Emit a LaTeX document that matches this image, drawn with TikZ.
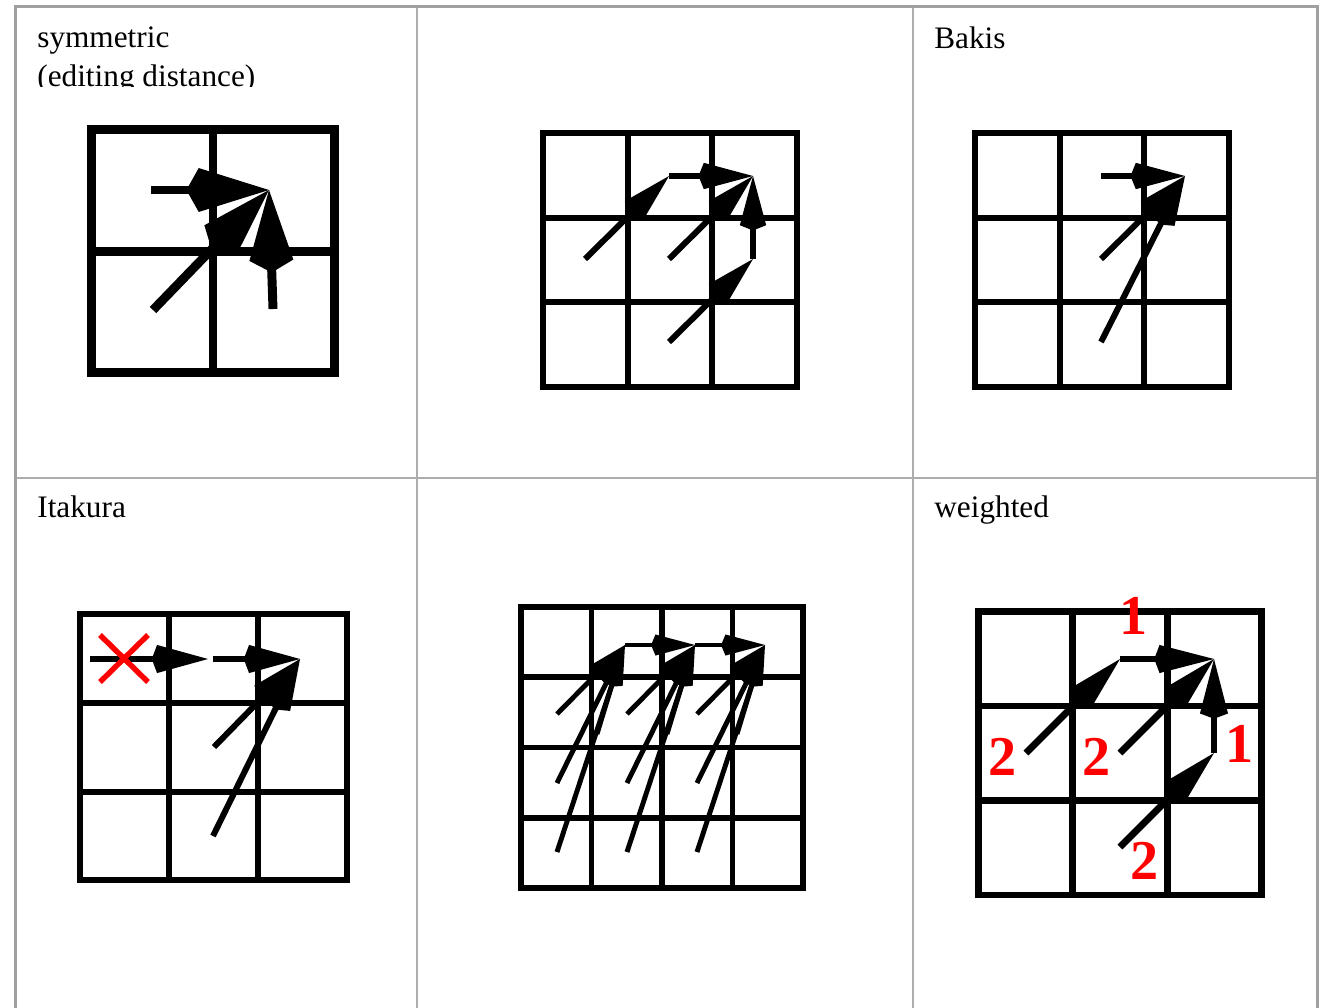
\documentclass[tikz,border=0pt]{standalone}
\usepackage{fontspec}
\setmainfont{Liberation Serif}
\usetikzlibrary{arrows.meta}
\definecolor{tblouter}{HTML}{A0A0A0}
\definecolor{tblinner}{HTML}{ADADAD}
\definecolor{wred}{HTML}{FF0000}
\begin{document}
\begin{tikzpicture}[x=0.02cm,y=-0.02cm,
  outerb/.style={draw=tblouter,line width=1.7pt},
  innerb/.style={draw=tblinner,line width=0.6pt},
  lbl/.style={anchor=base west,inner sep=0pt,font=\fontsize{17.8pt}{21pt}\selectfont},
  num/.style={anchor=base,inner sep=0pt,text=wred,font=\fontsize{32pt}{33pt}\selectfont\bfseries},
  g1/.style={line width=5.1pt},
  g2/.style={line width=3.4pt},
  g5/.style={line width=3.2pt},
  g6/.style={line width=3.8pt},
  a1/.style={line width=5.1pt,-{Kite[length=47pt,width=25pt,inset=7pt,line width=0pt]}},
  a2/.style={line width=3.4pt,-{Kite[length=31pt,width=15pt,inset=3pt,line width=0pt]}},
  a4/.style={line width=3.4pt,-{Kite[length=32pt,width=16pt,inset=3pt,line width=0pt]}},
  a5/.style={line width=2.8pt,-{Kite[length=25pt,width=12pt,inset=2.5pt,line width=0pt]}},
  a5l/.style={line width=2.8pt},
  a6/.style={line width=3.9pt,-{Kite[length=34pt,width=16pt,inset=3pt,line width=0pt]}},
  xmark/.style={draw=wred,line width=3.1pt}
]
\useasboundingbox[fill=white] (0,0) rectangle (1323,1008);

% ---------- table ----------
\draw[innerb] (417,7) -- (417,1008);
\draw[innerb] (913,7) -- (913,1008);
\draw[innerb] (16,478) -- (1316,478);
\draw[outerb] (15.5,1008) -- (15.5,6.5) -- (1317,6.5) -- (1317,1008);

% ---------- labels ----------
\node[lbl] (lsym) at (37,47) {symmetric};
\begin{scope}
  \clip (20,55) rectangle (410,86);
  \node[lbl] (ledit) at (37,86) {(editing distance)};
\end{scope}
\node[lbl] (lbakis) at (934,48) {Bakis};
\node[lbl] (litak) at (37,517) {Itakura};
\node[lbl] (lweig) at (934,517) {weighted};

% ---------- panel 1 ----------
\draw[g1] (91.5,129.5) rectangle (334.5,372.5);
\draw[g1] (213,129.5) -- (213,372.5);
\draw[g1] (91.5,251.5) -- (334.5,251.5);
\coordinate (p1t) at (269,190);
\coordinate (p1h) at (151,190);
\coordinate (p1d) at (153,310);
\coordinate (p1v) at (273,309);
\draw[a1] (p1h) -- (p1t);
\draw[a1] (p1d) -- (p1t);
\draw[a1] (p1v) -- (p1t);

% ---------- panel 2 ----------
\draw[g2] (543,133) rectangle (797,387);
\foreach \x in {627.67,712.33} \draw[g2] (\x,133) -- (\x,387);
\foreach \y in {217.67,302.33} \draw[g2] (543,\y) -- (797,\y);
\coordinate (p2P) at (753,176);
\coordinate (p2B) at (669,176);
\coordinate (p2D) at (753,259);
\coordinate (p2A) at (585,259);
\coordinate (p2C) at (669,259);
\coordinate (p2E) at (669,342);
\draw[a2] (p2A) -- (p2B);
\draw[a2] (p2B) -- (p2P);
\draw[a2] (p2C) -- (p2P);
\draw[a2] (p2E) -- (p2D);
\draw[a2] (p2D) -- (p2P);

% ---------- panel 3 ----------
\draw[g2] (975,133) rectangle (1229,387);
\foreach \x in {1059.67,1144.33} \draw[g2] (\x,133) -- (\x,387);
\foreach \y in {217.67,302.33} \draw[g2] (975,\y) -- (1229,\y);
\coordinate (p3P) at (1185,176);
\coordinate (p3H) at (1101,176);
\coordinate (p3D) at (1101,259);
\coordinate (p3S) at (1101,342);
\draw[a2] (p3H) -- (p3P);
\draw[a2] (p3D) -- (p3P);
\draw[a2] (p3S) -- (p3P);

% ---------- panel 4 ----------
\draw[g2] (80,614) rectangle (347,880);
\foreach \x in {169,258} \draw[g2] (\x,614) -- (\x,880);
\foreach \y in {703,792} \draw[g2] (80,\y) -- (347,\y);
\coordinate (p4P) at (300,659);
\coordinate (p4L) at (90,659);
\coordinate (p4Ma) at (208,659);
\coordinate (p4Mb) at (213,659);
\coordinate (p4D) at (214,747);
\coordinate (p4S) at (213,836);
\draw[a4] (p4L) -- (p4Ma);
\draw[a4] (p4Mb) -- (p4P);
\draw[a4] (p4D) -- (p4P);
\draw[a4] (p4S) -- (p4P);
\coordinate (x1) at (100,635);
\coordinate (x2) at (148,682);
\coordinate (x3) at (100,682);
\coordinate (x4) at (148,635);
\draw[xmark] (x1) -- (x2);
\draw[xmark] (x3) -- (x4);

% ---------- panel 5 ----------
\draw[g5] (521,607) rectangle (803,888);
\foreach \x in {591.5,662,732.5} \draw[g5] (\x,607) -- (\x,888);
\foreach \y in {677.25,747.5,817.75} \draw[g5] (521,\y) -- (803,\y);
\foreach \k in {0,1,2} {
  \coordinate (p5T\k) at ({625+70*\k},645);
  \coordinate (p5d\k) at ({557+70*\k},714);
  \coordinate (p5s\k) at ({557+70*\k},783);
  \coordinate (p5r\k) at ({557+70*\k},852);
  \coordinate (p5e\k) at ({597+70*\k},734);
  \coordinate (p5f\k) at ({617+70*\k},668);
  \draw[a5] (p5d\k) -- (p5T\k);
  \draw[a5] (p5s\k) -- (p5T\k);
  \draw[a5] (p5r\k) -- (p5T\k);
  \draw[a5l] (p5e\k) -- (p5f\k);
}
\draw[a5] (p5T0) -- (p5T1);
\draw[a5] (p5T1) -- (p5T2);

% ---------- panel 6 ----------
\draw[g6] (978.5,611.5) rectangle (1261.5,895);
\foreach \x in {1072.8,1167.2} \draw[g6] (\x,611.5) -- (\x,895);
\foreach \y in {706,800.5} \draw[g6] (978.5,\y) -- (1261.5,\y);
\coordinate (p6P) at (1214,659);
\coordinate (p6B) at (1120,659);
\coordinate (p6D) at (1214,753);
\coordinate (p6A) at (1026,753);
\coordinate (p6C) at (1120,753);
\coordinate (p6E) at (1120,847);
\draw[a6] (p6A) -- (p6B);
\draw[a6] (p6B) -- (p6P);
\draw[a6] (p6C) -- (p6P);
\draw[a6] (p6E) -- (p6D);
\draw[a6] (p6D) -- (p6P);
\node[num] (w1) at (1134,634) {1};
\node[num] (w2) at (1003,775) {2};
\node[num] (w3) at (1097,775) {2};
\node[num] (w4) at (1240,762) {1};
\node[num] (w5) at (1145,879) {2};
\end{tikzpicture}
\end{document}
